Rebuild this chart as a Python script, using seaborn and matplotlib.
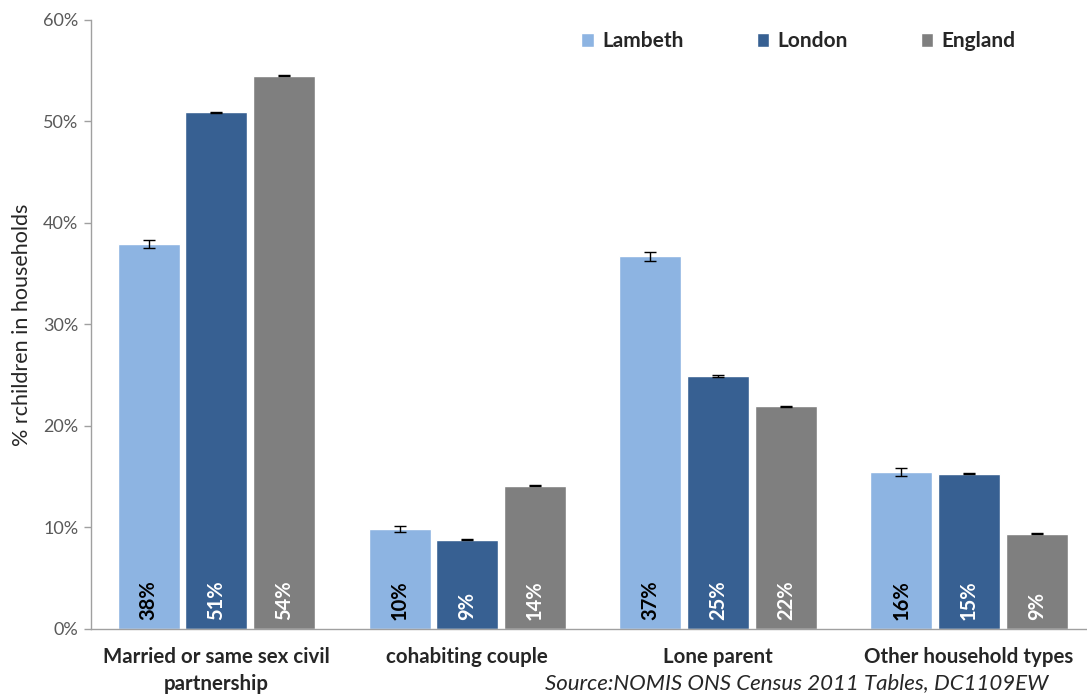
import matplotlib
matplotlib.use("Agg")
import matplotlib.pyplot as plt
import seaborn as sns
import pandas as pd

# data
categories = ["Married or same sex civil\npartnership", "cohabiting couple",
              "Lone parent", "Other household types"]
areas = ["Lambeth", "London", "England"]
lambeth = [37.9, 9.85, 36.7, 15.5]
london = [50.9, 8.8, 24.95, 15.3]
england = [54.5, 14.1, 21.95, 9.4]
lambeth_err = [0.4, 0.3, 0.4, 0.4]
london_err = [0.08, 0.07, 0.08, 0.08]
england_err = [0.04, 0.04, 0.04, 0.04]
labels = {"Lambeth": ["38%", "10%", "37%", "16%"],
          "London": ["51%", "9%", "25%", "15%"],
          "England": ["54%", "14%", "22%", "9%"]}

colors = {"Lambeth": "#8DB4E2", "London": "#376092", "England": "#7F7F7F"}
label_colors = {"Lambeth": "black", "London": "white", "England": "white"}

rows = []
for area, vals, errs in [("Lambeth", lambeth, lambeth_err),
                         ("London", london, london_err),
                         ("England", england, england_err)]:
    for cat, v, e in zip(categories, vals, errs):
        rows.append({"category": cat, "area": area, "value": v, "err": e})
df = pd.DataFrame(rows)

sns.set_style("white")
plt.rcParams['font.family'] = ['Lato', 'DejaVu Sans']

fig = plt.figure(figsize=(10.87, 6.94), dpi=100)
ax = fig.add_axes([0.0837, 0.0937, 0.9163, 0.8775])

sns.barplot(data=df, x="category", y="value", hue="area", hue_order=areas,
            order=categories, palette=colors, width=0.81, gap=0.085,
            errorbar=None, saturation=1, ax=ax, legend=True)

# error bars and rotated value labels, placed on the seaborn bars
for container, area in zip(ax.containers, areas):
    sub = df[df["area"] == area].set_index("category").loc[categories]
    xs = [p.get_x() + p.get_width() / 2 for p in container.patches]
    ax.errorbar(xs, sub["value"], yerr=sub["err"], fmt="none", ecolor="black",
                elinewidth=1, capsize=4, capthick=1)
    for x, lab in zip(xs, labels[area]):
        ax.text(x, 0.9, lab, rotation=90, ha="center", va="bottom",
                fontsize=14.5, fontweight="bold", color=label_colors[area])

ax.set_ylim(0, 60)
ax.set_xlim(-0.5, 3.47)
ax.set_yticks(range(0, 61, 10))
ax.set_yticklabels([f"{t}%" for t in range(0, 61, 10)], fontsize=13, color="#595959")
ax.set_xticks(range(4))
ax.set_xticklabels(categories, fontsize=14.8, fontweight="bold", linespacing=1.45)
ax.set_xticks([0.5, 1.5, 2.5], minor=True)
ax.tick_params(axis="x", which="major", length=0, pad=13)
ax.tick_params(axis="x", which="minor", length=6, color="#A0A0A0", width=1, direction="out")
ax.tick_params(axis="y", length=5, color="#A0A0A0", width=1, direction="out", left=True, pad=4)
ax.set_xlabel("")
ax.set_ylabel("% rchildren in households", fontsize=15.5, labelpad=8)

for s in ["top", "right"]:
    ax.spines[s].set_visible(False)
for s in ["left", "bottom"]:
    ax.spines[s].set_color("#A0A0A0")
    ax.spines[s].set_linewidth(1)

ax.legend(loc="upper right", bbox_to_anchor=(0.947, 1.012), ncol=3, frameon=False,
          prop={"weight": "bold", "size": 15}, handlelength=0.6, handleheight=0.6,
          handletextpad=0.4, columnspacing=3.5)

fig.text(0.5015, 0.007, "Source:NOMIS ONS Census 2011 Tables, DC1109EW",
         fontsize=16, fontstyle="italic", ha="left", va="baseline")

fig.savefig("out.png", dpi=100)
